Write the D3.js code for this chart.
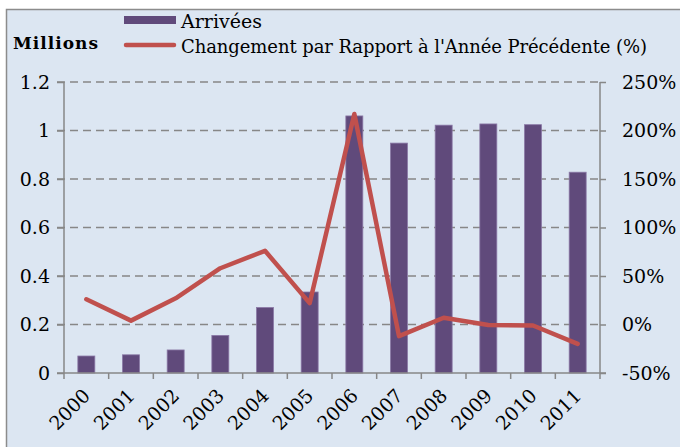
<!DOCTYPE html>
<html>
<head>
<meta charset="utf-8">
<script src="https://cdn.jsdelivr.net/npm/d3@7"></script>
<style>
  body { margin: 0; background: #fff; }
</style>
</head>
<body>
<svg id="chart" width="680" height="447"></svg>
<script>
// data
var years = ["2000", "2001", "2002", "2003", "2004", "2005", "2006", "2007", "2008", "2009", "2010", "2011"];
var arrivals = [0.07, 0.075, 0.095, 0.155, 0.27, 0.334, 1.06, 0.948, 1.022, 1.027, 1.024, 0.828];
var change = [26, 4, 27, 58, 76, 22, 217, -12, 7, -0.5, -1, -20];
var leftTicks = [0, 0.2, 0.4, 0.6, 0.8, 1, 1.2];
var rightTicks = [-50, 0, 50, 100, 150, 200, 250];

var font = "'DejaVu Serif'";
var svg = d3.select("#chart");

// panel background
svg.append("rect")
  .attr("x", 6.5).attr("y", 9.5)
  .attr("width", 700).attr("height", 460)
  .attr("fill", "#dce6f2")
  .attr("stroke", "#8c8c8c")
  .attr("stroke-width", 1.5);

var pLeft = 64, pRight = 600, pTop = 82, pBottom = 373;

var x = d3.scaleBand().domain(years).range([pLeft, pRight]).paddingInner(0.62).paddingOuter(0.31);
var xb = d3.scaleBand().domain(years).range([pLeft, pRight]);
var y = d3.scaleLinear().domain([0, 1.2]).range([pBottom, pTop]);
var y2 = d3.scaleLinear().domain([-50, 250]).range([pBottom, pTop]);

var grey = "#878787";

// grid
svg.append("g").selectAll("line")
  .data(leftTicks.slice(1))
  .enter().append("line")
  .attr("x1", pLeft - 7).attr("x2", pRight)
  .attr("y1", function (d) { return y(d); })
  .attr("y2", function (d) { return y(d); })
  .attr("stroke", grey)
  .attr("stroke-width", 1.5)
  .attr("stroke-dasharray", "8,5");

// bars
svg.append("g").selectAll("rect")
  .data(arrivals)
  .enter().append("rect")
  .attr("x", function (d, i) { return x(years[i]); })
  .attr("width", x.bandwidth())
  .attr("y", function (d) { return y(d); })
  .attr("height", function (d) { return pBottom - y(d); })
  .attr("fill", "#604a7b")
  .attr("stroke", "#8a78a6")
  .attr("stroke-width", 0.8);

// axes
var axisL = svg.append("g").attr("transform", "translate(" + pLeft + ",0)")
  .call(d3.axisLeft(y).tickValues(leftTicks).tickSize(7).tickFormat(d3.format("")));
var axisR = svg.append("g").attr("transform", "translate(" + pRight + ",0)")
  .call(d3.axisRight(y2).tickValues(rightTicks).tickSize(6).tickFormat(function (d) { return d + "%"; }));

// boundary ticks on the category axis
svg.append("g").selectAll("line")
  .data(years.concat(["end"]))
  .enter().append("line")
  .attr("x1", function (d, i) { return pLeft + i * xb.step(); })
  .attr("x2", function (d, i) { return pLeft + i * xb.step(); })
  .attr("y1", pBottom).attr("y2", pBottom + 6)
  .attr("stroke", grey).attr("stroke-width", 1.5);

svg.append("line")
  .attr("x1", pLeft - 7).attr("x2", pRight + 6)
  .attr("y1", pBottom).attr("y2", pBottom)
  .attr("stroke", grey).attr("stroke-width", 1.5);

[axisL, axisR].forEach(function (a) {
  a.attr("font-family", font);
  a.select(".domain").attr("stroke", grey).attr("stroke-width", 1.5)
    .attr("d", "M0," + pBottom + "V" + pTop);
  a.selectAll(".tick line").attr("stroke", grey).attr("stroke-width", 1.5);
  a.selectAll("text").attr("font-size", 19).attr("font-family", font).attr("fill", "#000");
});
axisL.selectAll("text").attr("x", -14);
axisR.selectAll("text").attr("x", 22);

// year labels
svg.append("g").selectAll("text")
  .data(years)
  .enter().append("text")
  .attr("transform", function (d) {
    return "translate(" + (xb(d) + xb.bandwidth() / 2 + 5) + "," + (pBottom + 24) + ") rotate(-45)";
  })
  .attr("text-anchor", "end")
  .attr("font-size", 19)
  .attr("font-family", font)
  .text(function (d) { return d; });

// change line
var line = d3.line()
  .x(function (d, i) { return xb(years[i]) + xb.bandwidth() / 2; })
  .y(function (d) { return y2(d); });

svg.append("path")
  .datum(change)
  .attr("d", line)
  .attr("fill", "none")
  .attr("stroke", "#c0504d")
  .attr("stroke-width", 4.5)
  .attr("stroke-linejoin", "round")
  .attr("stroke-linecap", "round");

// unit label
svg.append("text")
  .attr("x", 13).attr("y", 49)
  .attr("font-size", 17).attr("font-weight", "bold")
  .attr("font-family", font)
  .attr("textLength", 85)
  .text("Millions");

// legend
svg.append("rect")
  .attr("x", 124).attr("y", 16).attr("width", 52).attr("height", 8)
  .attr("fill", "#604a7b");
svg.append("text")
  .attr("x", 181).attr("y", 28).attr("font-size", 19)
  .attr("font-family", font)
  .text("Arrivées");
svg.append("line")
  .attr("x1", 126).attr("x2", 174).attr("y1", 45).attr("y2", 45)
  .attr("stroke", "#c0504d").attr("stroke-width", 4.5).attr("stroke-linecap", "round");
svg.append("text")
  .attr("x", 181).attr("y", 53).attr("font-size", 18)
  .attr("font-family", font)
  .attr("textLength", 466)
  .text("Changement par Rapport à l'Année Précédente (%)");
</script>
</body>
</html>
